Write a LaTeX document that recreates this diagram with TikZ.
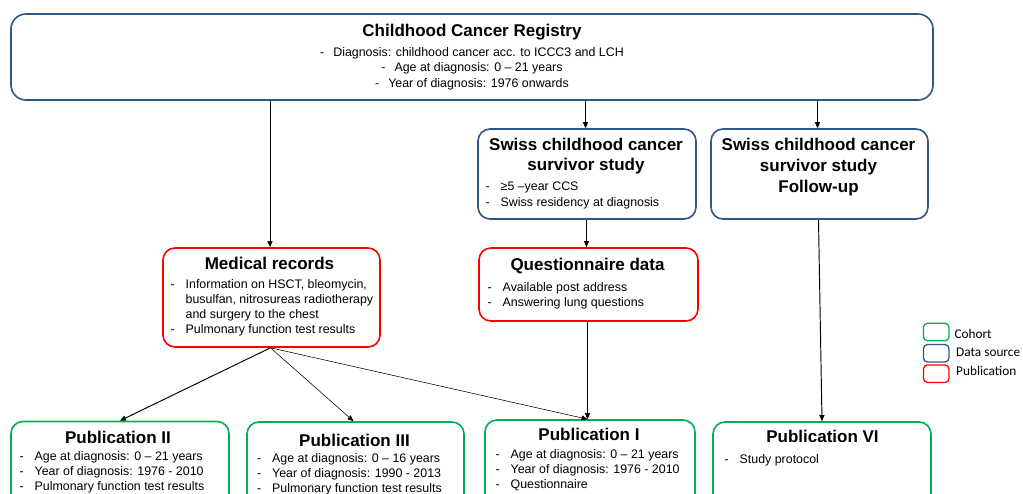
\documentclass[tikz,border=0pt]{standalone}
\usepackage{fontspec}
\setmainfont{Liberation Sans}
\newfontfamily\legfont{Carlito}
\usetikzlibrary{arrows.meta}
\definecolor{cblue}{RGB}{46,88,138}
\definecolor{cred}{RGB}{255,0,0}
\definecolor{cgreen}{RGB}{0,176,80}
\newcommand\dl{\makebox[15pt][l]{-}}
\newcommand\ind{\hspace*{15pt}}
\begin{document}
\begin{tikzpicture}[x=1pt,y=-1pt,
  box/.style={draw, rounded corners=12pt, line width=1.6pt, inner sep=0pt},
  bluebox/.style={box, draw=cblue},
  redbox/.style={box, draw=cred},
  greenbox/.style={box, draw=cgreen},
  ttl/.style={font=\bfseries\fontsize{17}{20.5}\selectfont, inner sep=0pt, anchor=base},
  bul/.style={font=\fontsize{12.4}{15.3}\selectfont, inner sep=0pt, anchor=base west},
  ctr/.style={font=\fontsize{12.4}{15.3}\selectfont, inner sep=0pt, anchor=base},
  arr/.style={-{Triangle[length=6pt,width=5pt]}, line width=0.95pt},
  thinarr/.style={-{Triangle[length=6pt,width=5pt]}, line width=0.55pt},
  legbox/.style={draw, rounded corners=4pt, line width=1.3pt, minimum width=25.5pt, minimum height=17.5pt, inner sep=0pt},
  leg/.style={font=\legfont\fontsize{13.3}{16}\selectfont, inner sep=0pt, anchor=base west}
]
\clip (0,0) rectangle (1023,494);
\fill[white] (0,0) rectangle (1023,494);

% boxes
\node[bluebox, rounded corners=15pt, minimum width=922pt, minimum height=86pt] (reg) at (472,57) {};
\node[bluebox, minimum width=218pt, minimum height=90pt] (sccs) at (587,174) {};
\node[bluebox, minimum width=217pt, minimum height=90pt] (fup) at (819.5,174) {};
\node[redbox, minimum width=217pt, minimum height=99pt] (med) at (271.5,297.5) {};
\node[redbox, minimum width=219pt, minimum height=73pt] (quest) at (588.5,284.5) {};
\node[greenbox, minimum width=218pt, minimum height=90pt] (p2) at (120,466.5) {};
\node[greenbox, minimum width=217pt, minimum height=90pt] (p3) at (355.5,467) {};
\node[greenbox, minimum width=210pt, minimum height=90pt] (p1) at (590,465) {};
\node[greenbox, minimum width=218pt, minimum height=90pt] (p6) at (822,467) {};

% registry
\node[ttl] (regT) at (472,36.5) {Childhood Cancer Registry};
\node[ctr] (regL) at (472,56.5) {\begin{tabular}[t]{@{}c@{}}-\hspace{9pt}Diagnosis: childhood cancer acc. to ICCC3 and LCH\\
-\hspace{9pt}Age at diagnosis: 0 – 21 years\\
-\hspace{9pt}Year of diagnosis: 1976 onwards\end{tabular}};

% SCCSS
\node[ttl, font=\bfseries\fontsize{17}{20.3}\selectfont] (sccsT) at (586,150.5) {\begin{tabular}[t]{@{}c@{}}Swiss childhood cancer\\survivor study\end{tabular}};
\node[bul, font=\fontsize{12.4}{15.5}\selectfont] (sccsL) at (485.5,190.7) {\begin{tabular}[t]{@{}l@{}}\dl ≥5 –year CCS\\ \dl Swiss residency at diagnosis\end{tabular}};

% follow-up
\node[ttl, font=\bfseries\fontsize{17}{20.8}\selectfont] (fupT) at (818.5,150.7) {\begin{tabular}[t]{@{}c@{}}Swiss childhood cancer\\survivor study\\Follow-up\end{tabular}};

% medical records
\node[ttl] (medT) at (269.5,269.5) {Medical records};
\node[bul, font=\fontsize{12.4}{15.1}\selectfont] (medL) at (170.5,288.7) {\begin{tabular}[t]{@{}l@{}}\dl Information on HSCT, bleomycin,\\ \ind busulfan, nitrosureas radiotherapy\\ \ind and surgery to the chest\\ \dl Pulmonary function test results\end{tabular}};

% questionnaire
\node[ttl] (questT) at (587.5,270.5) {Questionnaire data};
\node[bul, font=\fontsize{12.4}{15}\selectfont] (questL) at (487.5,291.7) {\begin{tabular}[t]{@{}l@{}}\dl Available post address\\ \dl Answering lung questions\end{tabular}};

% publications
\node[ttl] (p2T) at (118,443.3) {Publication II};
\node[bul, font=\fontsize{12.4}{15}\selectfont] (p2L) at (19.5,460) {\begin{tabular}[t]{@{}l@{}}\dl Age at diagnosis: 0 – 21 years\\ \dl Year of diagnosis: 1976 - 2010\\ \dl Pulmonary function test results\end{tabular}};

\node[ttl] (p3T) at (354.5,446) {Publication III};
\node[bul, font=\fontsize{12.4}{15}\selectfont] (p3L) at (257,462) {\begin{tabular}[t]{@{}l@{}}\dl Age at diagnosis: 0 – 16 years\\ \dl Year of diagnosis: 1990 - 2013\\ \dl Pulmonary function test results\end{tabular}};

\node[ttl] (p1T) at (589,440) {Publication I};
\node[bul, font=\fontsize{12.4}{14.8}\selectfont] (p1L) at (495.5,458.7) {\begin{tabular}[t]{@{}l@{}}\dl Age at diagnosis: 0 – 21 years\\ \dl Year of diagnosis: 1976 - 2010\\ \dl Questionnaire\end{tabular}};

\node[ttl] (p6T) at (822.5,442.3) {Publication VI};
\node[bul] (p6L) at (724.5,463.3) {\dl Study protocol};

% connectors
\draw[arr] ([xshift=-1.5pt]med.north |- reg.south) -- ([xshift=-1.5pt]med.north);
\draw[arr] ([xshift=-1.5pt]sccs.north |- reg.south) -- ([xshift=-1.5pt]sccs.north);
\draw[arr] ([xshift=-2pt]fup.north |- reg.south) -- ([xshift=-2pt]fup.north);
\draw[arr] ([xshift=-0.5pt]sccs.south) -- ([xshift=-0.5pt]sccs.south |- quest.north);
\coordinate (p1in) at ([xshift=-2.5pt]p1.north);
\draw[arr] (p1in |- quest.south) -- (p1in);
\draw[arr] ([xshift=-1pt]med.south) -- (p2.north);
\draw[thinarr] ([xshift=-1pt]med.south) -- ([xshift=-2pt]p3.north);
\draw[thinarr] ([xshift=-1pt]med.south) -- (p1in);
\draw[arr] ([xshift=-1pt]fup.south) -- (p6.north);

% legend
\node[legbox, draw=cgreen] (lgG) at (936.2,332) {};
\node[legbox, draw=cblue] (lgB) at (936.2,353.3) {};
\node[legbox, draw=cred] (lgR) at (936.2,373.7) {};
\node[leg] (lgGt) at (954.3,338.3) {Cohort};
\node[leg] (lgBt) at (956,356.7) {Data source};
\node[leg] (lgRt) at (956,375.7) {Publication};
\end{tikzpicture}
\end{document}
